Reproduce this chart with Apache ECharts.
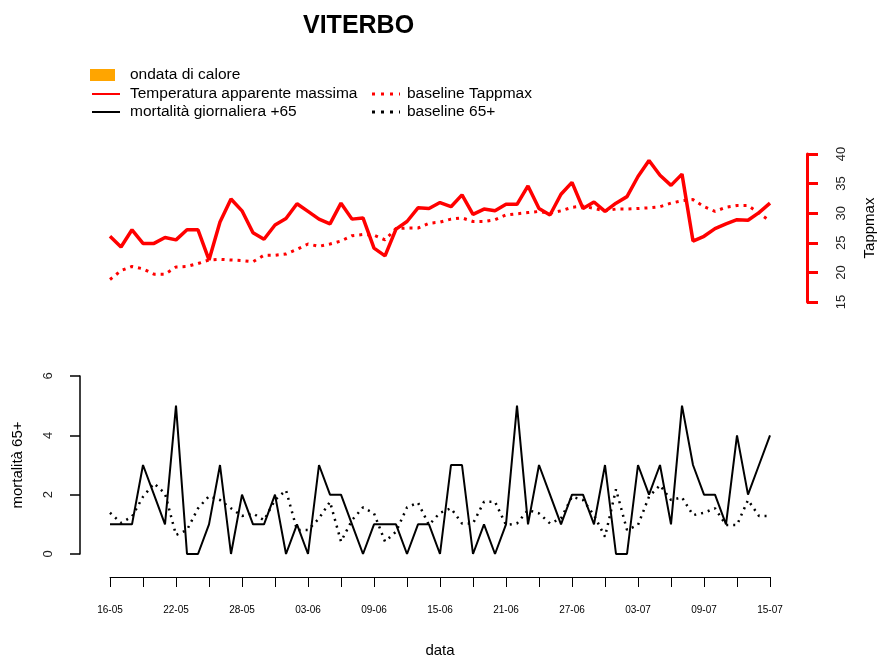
<!DOCTYPE html>
<html>
<head>
<meta charset="utf-8">
<script src="https://cdn.jsdelivr.net/npm/echarts@6/dist/echarts.min.js"></script>
<style>
html,body{margin:0;padding:0;background:#fff}
#main{width:882px;height:659px}
</style>
</head>
<body>
<div id="main"></div>
<script>
// giorni dal 16-05 al 15-07
var giorni = ["16-05","17-05","18-05","19-05","20-05","21-05","22-05","23-05","24-05","25-05","26-05","27-05","28-05","29-05","30-05","31-05",
    "01-06","02-06","03-06","04-06","05-06","06-06","07-06","08-06","09-06","10-06","11-06","12-06","13-06","14-06","15-06","16-06","17-06","18-06","19-06","20-06",
    "21-06","22-06","23-06","24-06","25-06","26-06","27-06","28-06","29-06","30-06",
    "01-07","02-07","03-07","04-07","05-07","06-07","07-07","08-07","09-07","10-07","11-07","12-07","13-07","14-07","15-07"];

var tappmax = [26.1,24.3,27.2,24.9,24.9,25.9,25.5,27.2,27.2,22.1,28.5,32.4,30.4,26.7,25.6,28.0,29.1,31.6,30.3,29.0,28.2,31.7,29.0,29.2,24.1,22.8,27.3,28.6,30.9,30.8,
    31.8,31.1,33.1,29.8,30.7,30.4,31.5,31.5,34.6,30.8,29.7,33.2,35.2,30.8,31.9,30.3,31.7,32.8,36.2,38.9,36.4,34.7,36.6,25.3,26.1,27.4,28.2,28.9,28.8,30.1,31.7];

var baselineTappmax = [18.8,20.3,21.0,20.6,19.7,19.7,20.9,21.0,21.5,22.1,22.2,22.1,22.0,21.8,22.9,22.9,23.1,23.9,24.8,24.4,24.8,25.3,26.2,26.4,26.3,25.5,27.4,27.5,27.5,28.3,
    28.5,29.0,29.2,28.6,28.6,28.9,29.7,29.9,30.1,30.3,30.0,30.4,31.0,31.2,30.8,30.4,30.7,30.7,30.8,30.9,31.1,31.7,32.1,32.3,31.1,30.3,31.0,31.3,31.3,30.0,28.7];

var mortalita = [1,1,1,3,2,1,5,0,0,1,3,0,2,1,1,2,0,1,0,3,2,2,1,0,1,1,1,0,1,1,
    0,3,3,0,1,0,1,5,1,3,2,1,2,2,1,3,0,0,3,2,3,1,5,3,2,2,1,4,2,3,4];

var baseline65 = [1.39,1.05,1.26,1.93,2.38,2.04,0.64,0.81,1.54,1.95,1.82,1.54,1.28,1.37,1.14,1.82,2.15,0.81,0.81,1.20,1.76,0.42,1.14,1.57,1.37,0.42,0.75,1.57,1.73,0.98,
    1.39,1.54,1.03,1.03,1.76,1.76,0.98,1.03,1.48,1.37,1.03,1.20,1.93,1.82,1.31,0.58,2.18,0.81,0.98,1.93,2.32,1.82,1.91,1.31,1.39,1.54,0.98,0.98,1.82,1.28,1.28];

var tickTappmax = [15, 40, 5];
var tickMortalita = [0, 6, 2];

var FONT = "'Liberation Sans', Arial, sans-serif";

var chart = echarts.init(document.getElementById("main"));

function legendText(txt, x, y){
    return {type: "text", x: x, y: y, style: {text: txt, font: "15.5px " + FONT, fill: "#000", verticalAlign: "middle"}};
}
function legendLine(x, y, color, dash){
    return {type: "line", shape: {x1: x, y1: y, x2: x + 28, y2: y},
        style: {stroke: color, lineWidth: dash ? 3 : 2, lineDash: dash ? [3, 6] : null}};
}

var option = {
    animation: false,
    backgroundColor: "#fff",
    textStyle: {fontFamily: FONT},
    title: {
        text: "VITERBO",
        left: 298, top: 9,
        textStyle: {fontSize: 25, fontWeight: "bold", color: "#000", fontFamily: FONT}
    },
    graphic: [
        {type: "rect", shape: {x: 90, y: 69, width: 25, height: 12}, style: {fill: "#FFA500"}},
        legendText("ondata di calore", 130, 75),
        legendLine(92, 94, "#FF0000", false),
        legendText("Temperatura apparente massima", 130, 94),
        legendLine(372, 94, "#FF0000", true),
        legendText("baseline Tappmax", 407, 94),
        legendLine(92, 112, "#000", false),
        legendText("mortalità giornaliera +65", 130, 112),
        legendLine(372, 112, "#000", true),
        legendText("baseline 65+", 407, 112)
    ],
    grid: [
        {left: 110, right: 112, top: 154, height: 148, outerBoundsMode: "none", containLabel: false},
        {left: 110, right: 112, top: 376, height: 178, outerBoundsMode: "none", containLabel: false}
    ],
    xAxis: [
        {gridIndex: 0, type: "category", data: giorni, boundaryGap: false, show: false},
        {
            gridIndex: 1, type: "category", data: giorni, boundaryGap: false,
            offset: 23,
            name: "data", nameLocation: "middle", nameGap: 66,
            nameTextStyle: {fontSize: 15, color: "#000"},
            axisLine: {onZero: false, lineStyle: {color: "#000", width: 1}},
            axisTick: {length: 10, lineStyle: {color: "#000"}, interval: function(i){ return i % 3 === 0; }},
            axisLabel: {fontSize: 10, color: "#000", margin: 28, interval: function(i){ return i % 6 === 0; }},
            splitLine: {show: false}
        }
    ],
    yAxis: [
        {
            gridIndex: 0, type: "value", position: "right", offset: 37,
            min: tickTappmax[0], max: tickTappmax[1], interval: tickTappmax[2],
            name: "Tappmax", nameLocation: "middle", nameGap: 55, nameRotate: 90,
            nameTextStyle: {fontSize: 15, color: "#000"},
            axisLine: {show: true, lineStyle: {color: "#FF0000", width: 3}},
            axisTick: {show: true, length: 11, lineStyle: {color: "#FF0000", width: 3}},
            axisLabel: {rotate: 90, fontSize: 13, color: "#222", margin: 28},
            splitLine: {show: false}
        },
        {
            gridIndex: 1, type: "value", position: "left", offset: 30,
            min: tickMortalita[0], max: tickMortalita[1], interval: tickMortalita[2],
            name: "mortalità 65+", nameLocation: "middle", nameGap: 55, nameRotate: 90,
            nameTextStyle: {fontSize: 15, color: "#000"},
            axisLine: {show: true, lineStyle: {color: "#000", width: 1.5}},
            axisTick: {show: true, length: 10, lineStyle: {color: "#000", width: 1.5}},
            axisLabel: {rotate: 90, fontSize: 13, color: "#222", margin: 25},
            splitLine: {show: false}
        }
    ],
    series: [
        {name: "baseline Tappmax", type: "line", xAxisIndex: 0, yAxisIndex: 0, data: baselineTappmax,
            symbol: "none", lineStyle: {color: "#FF0000", width: 3, type: [3, 5]}, z: 2},
        {name: "Temperatura apparente massima", type: "line", xAxisIndex: 0, yAxisIndex: 0, data: tappmax,
            symbol: "none", lineStyle: {color: "#FF0000", width: 3.5}, z: 3},
        {name: "baseline 65+", type: "line", xAxisIndex: 1, yAxisIndex: 1, data: baseline65,
            symbol: "none", lineStyle: {color: "#000", width: 2.5, type: [2, 5]}, z: 2},
        {name: "mortalità giornaliera +65", type: "line", xAxisIndex: 1, yAxisIndex: 1, data: mortalita,
            symbol: "none", lineStyle: {color: "#000", width: 2}, z: 3}
    ]
};

chart.setOption(option);
</script>
</body>
</html>
